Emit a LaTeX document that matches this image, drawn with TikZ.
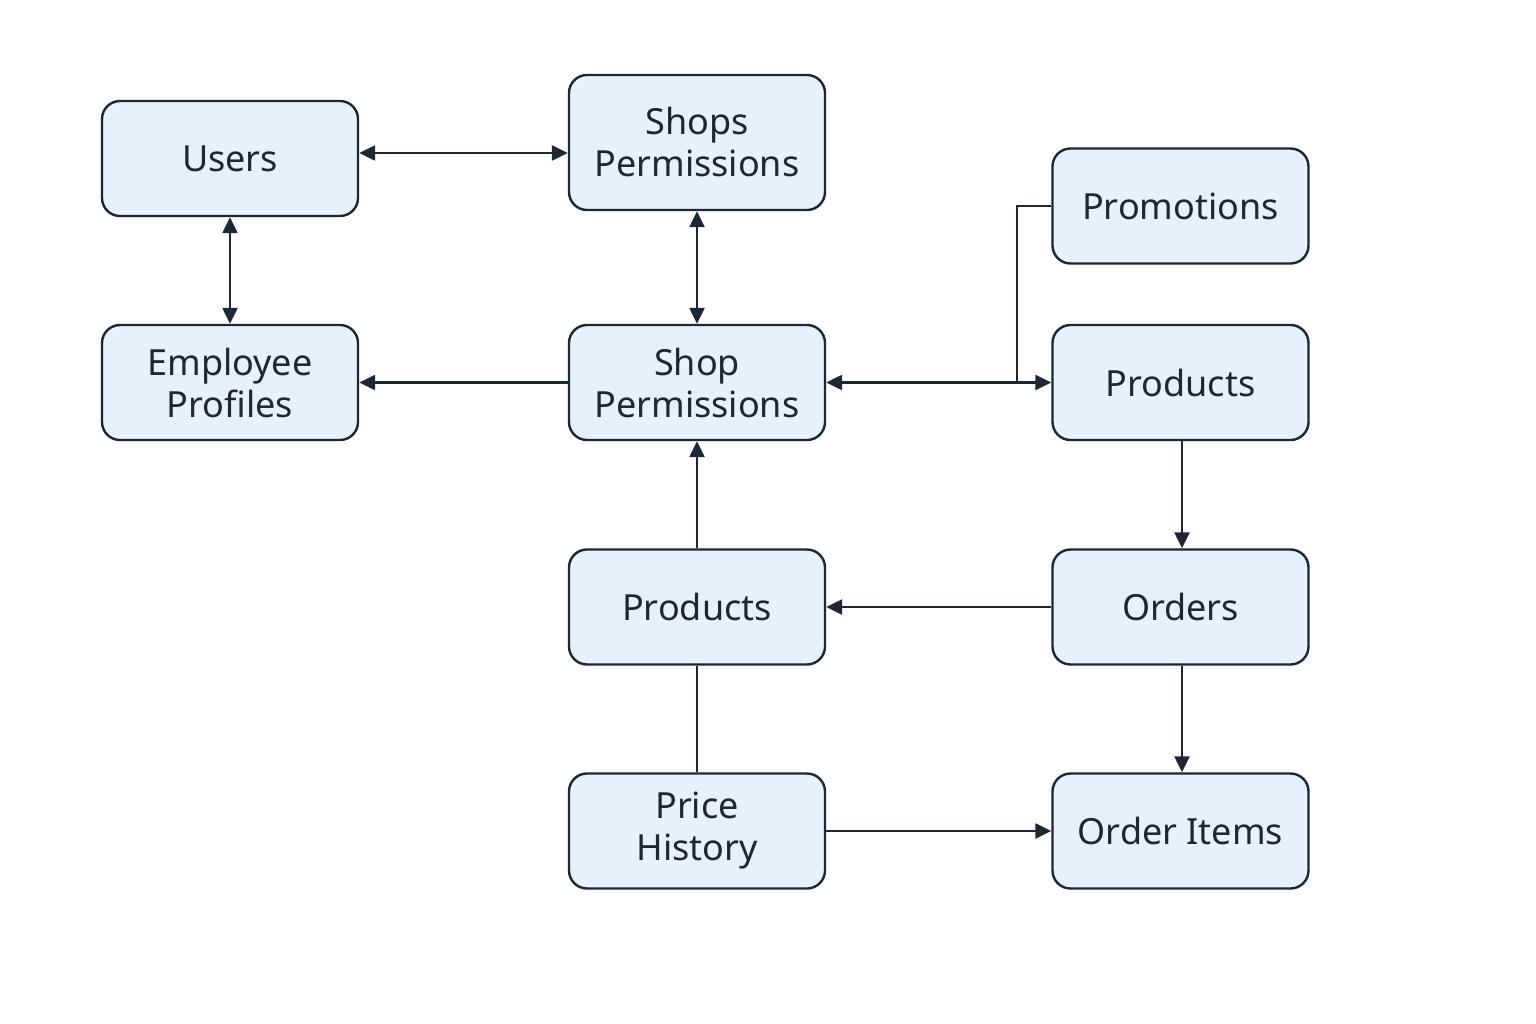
\documentclass[tikz,border=0pt]{standalone}
\usepackage{fontspec}
\setmainfont{Noto Sans}
\usetikzlibrary{arrows.meta}
\definecolor{boxfill}{HTML}{E6F1FD}
\definecolor{boxline}{HTML}{1E2733}
\begin{document}
\begin{tikzpicture}[x=1pt,y=-1pt,
  entity/.style={draw=boxline, fill=boxfill, line width=2.4pt, rounded corners=18pt,
    minimum width=256pt, minimum height=115pt, align=center, inner sep=0pt,
    font=\fontsize{36}{42}\selectfont, text=boxline},
  conn/.style={draw=boxline, line width=2.4pt},
  tip/.style={-{Triangle[length=16pt,width=15pt]}},
  tips/.style={{Triangle[length=16pt,width=15pt]}-{Triangle[length=16pt,width=15pt]}}]
\fill[white] (0,0) rectangle (1536,1024);
\useasboundingbox (0,0) rectangle (1536,1024);
\node[entity] (users) at (230,158.5) {Users};
\node[entity, minimum height=135pt] (shops) at (697,142.5) {Shops\\Permissions};
\node[entity] (promo) at (1180.5,206) {Promotions};
\node[entity] (emp) at (230,382.5) {Employee\\Profiles};
\node[entity] (shop) at (697,382.5) {Shop\\Permissions};
\node[entity] (prodr) at (1180.5,382.5) {Products};
\node[entity] (prodm) at (697,607) {Products};
\node[entity] (orders) at (1180.5,607) {Orders};
\node[entity] (price) at (697,831) {Price\\History};
\node[entity] (items) at (1180.5,831) {Order Items};
\coordinate (j) at (1017,382.5);
\draw[conn,tips] (users.east |- 0,153) -- (shops.west |- 0,153);
\draw[conn,tips] (users) -- (emp);
\draw[conn,tips] (shops) -- (shop);
\draw[conn,tip] (shop) -- (emp);
\draw[conn,tips] (shop) -- (prodr);
\draw[conn] (promo.west) -| (j);
\draw[conn,tip] (prodr.south -| 1182,0) -- (orders.north -| 1182,0);
\draw[conn,tip] (orders) -- (prodm);
\draw[conn,tip] (prodm) -- (shop);
\draw[conn] (prodm) -- (price);
\draw[conn,tip] (price) -- (items);
\draw[conn,tip] (orders.south -| 1182,0) -- (items.north -| 1182,0);
\end{tikzpicture}
\end{document}
